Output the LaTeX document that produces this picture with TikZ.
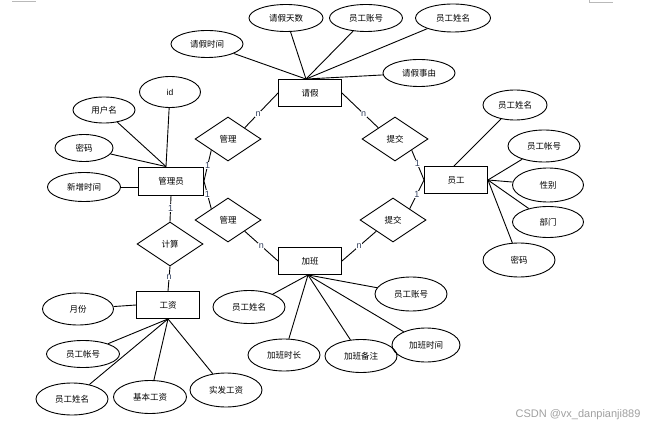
\documentclass[tikz,border=0pt]{standalone}
\usepackage{fontspec}
\setmainfont{Liberation Sans}
\newfontfamily\cjk{Noto Sans CJK SC}
\usetikzlibrary{shapes.geometric}
\definecolor{labc}{HTML}{33405E}
\definecolor{wm}{HTML}{A0A0A0}
\begin{document}
\begin{tikzpicture}[x=1pt,y=-1pt,line width=0.9pt,
  ent/.style={draw,rectangle,minimum width=63pt,minimum height=27pt,inner sep=0pt,font=\cjk\fontsize{8.5}{10}\selectfont},
  attr/.style={draw,ellipse,minimum width=72pt,minimum height=32pt,inner sep=0pt,font=\cjk\fontsize{8.5}{10}\selectfont},
  rel/.style={draw,diamond,minimum width=66pt,minimum height=44pt,inner sep=0pt,font=\cjk\fontsize{8.5}{10}\selectfont},
  lab/.style={font=\fontsize{9}{10}\selectfont,text=labc,fill=white,inner sep=0.6pt}
]
\useasboundingbox (0,0) rectangle (655,430);
% page corner marks
\draw[gray!55,line width=0.6pt] (12,1.5) -- (36,1.5);
\draw[gray!55,line width=0.6pt] (589,0) -- (589,2) -- (613,2);

% entities
\node[ent] (qj) at (310,93) {请假};
\node[ent,minimum width=65pt,minimum height=28pt] (gly) at (171,181) {管理员};
\node[ent] (yg) at (456,180) {员工};
\node[ent] (jb) at (310,261) {加班};
\node[ent] (gz) at (168,305) {工资};

% relationships
\node[rel] (gl1) at (228,139) {管理};
\node[rel] (tj1) at (395,139) {提交};
\node[rel] (gl2) at (228,220) {管理};
\node[rel] (tj2) at (393,220) {提交};
\node[rel] (js) at (170,244) {计算};

% relationship connectors
\draw (qj.west) -- node[lab,pos=0.6]{n} (gl1.north east);
\draw (qj.east) -- node[lab,pos=0.6]{n} (tj1.north west);
\draw (gl1.south west) -- node[lab,pos=0.5]{1} (gly.east);
\draw (gly.east) -- node[lab,pos=0.47]{1} (gl2.north west);
\draw (gl2.south east) -- node[lab,pos=0.5]{n} (jb.west);
\draw (tj2.south west) -- node[lab,pos=0.5]{n} (jb.east);
\draw (tj1.south east) -- node[lab,pos=0.45]{1} (yg.west);
\draw (yg.west) -- node[lab,pos=0.5]{1} (tj2.north east);
\draw (gly.south) -- node[lab,pos=0.48]{1} (js.north);
\draw (js.south) -- node[lab,pos=0.42]{n} (gz.north);

% attributes of 请假
\coordinate (qjtop) at ([xshift=-4pt]qj.north);
\node[attr,minimum width=72pt,minimum height=27pt] (qjsj) at (207,44) {请假时间};
\node[attr,minimum width=74pt,minimum height=27pt] (qjts) at (286,18) {请假天数};
\node[attr,minimum width=73pt,minimum height=27pt] (ygzh1) at (366,18) {员工账号};
\node[attr,minimum width=75pt,minimum height=28pt] (ygxm1) at (453,18) {员工姓名};
\node[attr,minimum width=72pt,minimum height=27pt] (qjsy) at (419,73) {请假事由};
\foreach \a in {qjsj,qjts,ygzh1,ygxm1,qjsy} \draw (\a) -- (qjtop);

% attributes of 管理员
\coordinate (glytop) at ([xshift=-5pt]gly.north);
\node[attr,minimum width=61pt,minimum height=31pt,font=\fontsize{8.5}{10}\selectfont] (id) at (170,92) {id};
\node[attr,minimum width=62pt,minimum height=26pt] (yhm) at (104,110) {用户名};
\node[attr,minimum width=58pt,minimum height=27pt] (mm1) at (84,148) {密码};
\node[attr,minimum width=73pt,minimum height=29pt] (xzsj) at (84,187) {新增时间};
\foreach \a in {id,yhm,mm1} \draw (\a) -- (glytop);
\draw (xzsj.east) -- (xzsj.east -| gly.west);

% attributes of 员工
\coordinate (ygtop) at ([xshift=-2pt]yg.north);
\node[attr,minimum width=64pt,minimum height=30pt] (ygxm2) at (515,105) {员工姓名};
\node[attr,minimum width=72pt,minimum height=32pt] (ygzh2) at (544,146) {员工帐号};
\node[attr,minimum width=71pt,minimum height=34pt] (xb) at (548,185) {性别};
\node[attr,minimum width=71pt,minimum height=31pt] (bm) at (548,222) {部门};
\node[attr,minimum width=72pt,minimum height=34pt] (mm2) at (519,260) {密码};
\draw (ygxm2) -- (ygtop);
\foreach \a in {ygzh2,xb,bm,mm2} \draw (\a) -- (yg.east);

% attributes of 加班
\coordinate (jbbot) at ([xshift=-2pt]jb.south);
\node[attr,minimum width=72pt,minimum height=33pt] (ygxm3) at (249,307) {员工姓名};
\node[attr,minimum width=72pt,minimum height=34pt] (ygzh3) at (411,294) {员工账号};
\node[attr,minimum width=72pt,minimum height=32pt] (jbsc) at (284,355) {加班时长};
\node[attr,minimum width=72pt,minimum height=33pt] (jbbz) at (361,356) {加班备注};
\node[attr,minimum width=68pt,minimum height=34pt] (jbsj) at (426,345) {加班时间};
\foreach \a in {ygxm3,ygzh3,jbsc,jbbz,jbsj} \draw (\a) -- (jbbot);

% attributes of 工资
\node[attr,minimum width=71pt,minimum height=32pt] (yf) at (78,309) {月份};
\node[attr,minimum width=73pt,minimum height=27pt] (ygzh4) at (83,354) {员工帐号};
\node[attr,minimum width=72pt,minimum height=32pt] (ygxm4) at (72,399) {员工姓名};
\node[attr,minimum width=73pt,minimum height=33pt] (jbgz) at (150,397) {基本工资};
\node[attr,minimum width=72pt,minimum height=34pt] (sfgz) at (226,390) {实发工资};
\draw (yf) -- (gz.west);
\foreach \a in {ygzh4,ygxm4,jbgz,sfgz} \draw (\a) -- (gz.south);

% watermark
\node[text=wm,font=\fontsize{11}{12}\selectfont,inner sep=0pt] (wmk) at (578,415) {CSDN @vx\_danpianji889};
\end{tikzpicture}
\end{document}
